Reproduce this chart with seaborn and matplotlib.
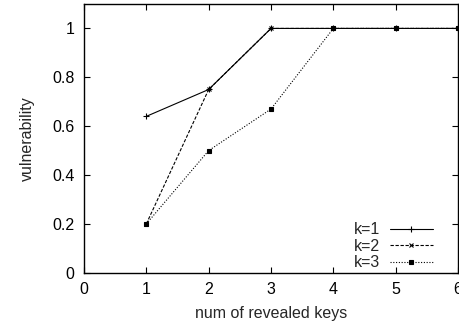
import matplotlib
matplotlib.use("Agg")
import matplotlib.pyplot as plt
import seaborn as sns
import pandas as pd

revealed_keys = [1, 2, 3, 4, 5, 6]
k1 = [0.64, 0.75, 1.0, 1.0, 1.0, 1.0]
k2 = [0.20, 0.75, 1.0, 1.0, 1.0, 1.0]
k3 = [0.20, 0.50, 0.67, 1.0, 1.0, 1.0]
series_labels = ["k=1", "k=2", "k=3"]
x_ticks = [0, 1, 2, 3, 4, 5, 6]
y_ticks = [0, 0.2, 0.4, 0.6, 0.8, 1]
y_tick_labels = ["0", "0.2", "0.4", "0.6", "0.8", "1"]

sns.set_theme(style="ticks")
plt.rcParams["font.family"] = ["Liberation Sans", "DejaVu Sans"]
plt.rcParams["font.size"] = 11

fig = plt.figure(figsize=(4.59, 3.24), dpi=100)
ax = fig.add_axes([84 / 459, 1 - 272.7 / 324, (458 - 84) / 459, (272.7 - 4) / 324])

styles = [
    dict(linestyle="-", marker="+", markersize=4),
    dict(linestyle=(0, (3, 1.5)), marker="x", markersize=3),
    dict(linestyle=(0, (1, 1.5)), marker="s", markersize=2.5),
]
for vals, lab, st in zip([k1, k2, k3], series_labels, styles):
    df = pd.DataFrame({"keys": revealed_keys, "vulnerability": vals})
    sns.lineplot(data=df, x="keys", y="vulnerability", ax=ax, color="black",
                 linewidth=0.8, label=lab, markeredgewidth=0.8,
                 markerfacecolor="black", markeredgecolor="black", **st)

ax.set_xlim(0, 6)
ax.set_ylim(0, 1.1)
ax.set_xticks(x_ticks)
ax.set_xticklabels([str(t) for t in x_ticks])
ax.set_yticks(y_ticks)
ax.set_yticklabels(y_tick_labels)
ax.tick_params(direction="in", top=True, right=True, length=4, width=0.8,
               labelsize=11.5, colors="black", pad=7)
for sp in ax.spines.values():
    sp.set_visible(True)
    sp.set_linewidth(1.0)
    sp.set_color("black")
ax.set_xlabel("num of revealed keys", fontsize=11.5, labelpad=6)
ax.set_ylabel("vulnerability", fontsize=11.5, labelpad=12)

leg = ax.legend(loc="lower right", frameon=False, markerfirst=False,
                fontsize=11.5, handlelength=2.7, borderaxespad=0.0,
                bbox_to_anchor=(0.95, -0.015),
                labelspacing=0.1, handletextpad=0.6)

fig.savefig("out.png", dpi=100)
